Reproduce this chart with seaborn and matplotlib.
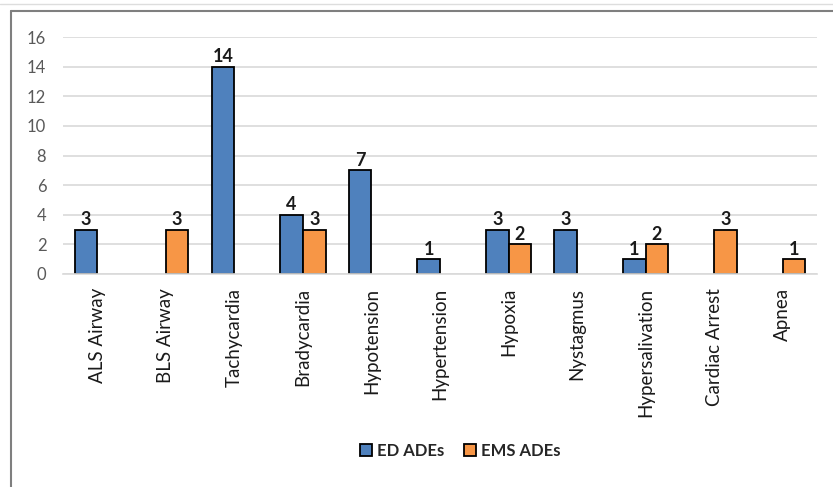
import matplotlib
matplotlib.use("Agg")
import matplotlib.pyplot as plt
from matplotlib.patches import Rectangle
from matplotlib.lines import Line2D
import seaborn as sns
import pandas as pd

categories = ["ALS Airway", "BLS Airway", "Tachycardia", "Bradycardia", "Hypotension",
              "Hypertension", "Hypoxia", "Nystagmus", "Hypersalivation", "Cardiac Arrest", "Apnea"]
ed_ades = [3, 0, 14, 4, 7, 1, 3, 3, 1, 0, 0]
ems_ades = [0, 3, 0, 3, 0, 0, 2, 0, 2, 3, 1]
series_names = ["ED ADEs", "EMS ADEs"]
colors = ["#4F81BD", "#F79646"]

df = pd.DataFrame({
    "category": categories * 2,
    "value": ed_ades + ems_ades,
    "series": [series_names[0]] * len(categories) + [series_names[1]] * len(categories),
})

sns.set_style("white")
plt.rcParams["font.family"] = ["Lato", "DejaVu Sans"]

fig = plt.figure(figsize=(8.33, 4.87), dpi=100)
ax = fig.add_axes([63 / 833, 1 - 274 / 487, (817 - 63) / 833, (274 - 37) / 487])

sns.barplot(data=df, x="category", y="value", hue="series", palette=colors,
            order=categories, hue_order=series_names, width=0.66,
            edgecolor="black", linewidth=1.3, ax=ax, legend=False, saturation=1)

for container in ax.containers:
    labels = []
    for p in container:
        h = p.get_height()
        if h == 0:
            p.set_visible(False)
            labels.append("")
        else:
            labels.append(f"{int(h)}")
    ax.bar_label(container, labels=labels, fontsize=13, fontweight="bold", padding=1, color="#1a1a1a")

ax.set_ylim(0, 16)
ax.set_yticks(range(0, 17, 2))
ax.grid(axis="y", color="#d9d9d9", linewidth=1.2)
ax.set_axisbelow(True)
for s in ["left", "right", "top"]:
    ax.spines[s].set_visible(False)
ax.spines["bottom"].set_color("#d9d9d9")
ax.spines["bottom"].set_linewidth(1.2)
ax.set_xlabel("")
ax.set_ylabel("")
ax.tick_params(axis="y", length=0, labelsize=12, labelcolor="#595959", pad=12)
ax.tick_params(axis="x", length=0, labelsize=13.5, labelcolor="#1a1a1a", pad=10)
plt.setp(ax.get_xticklabels(), rotation=90, va="top", ha="center")

handles = [Rectangle((0, 0), 1, 1, facecolor=c, edgecolor="black", linewidth=1.3) for c in colors]
fig.legend(handles, series_names, loc="center", bbox_to_anchor=(460 / 833, 1 - 451 / 487),
           ncol=2, frameon=False, prop={"weight": "bold", "size": 12},
           handlelength=0.7, handleheight=0.7, handletextpad=0.3, columnspacing=1.2)

# outer frame
fig.add_artist(Line2D([11 / 833, 11 / 833], [0, 1 - 11 / 487], transform=fig.transFigure,
                      color="#7f7f7f", linewidth=1.5))
fig.add_artist(Line2D([11 / 833, 1], [1 - 11 / 487, 1 - 11 / 487], transform=fig.transFigure,
                      color="#7f7f7f", linewidth=1.5))
fig.add_artist(Line2D([0, 1], [1 - 4 / 487, 1 - 4 / 487], transform=fig.transFigure,
                      color="#dddddd", linewidth=1))

fig.savefig("out.png", dpi=100)
